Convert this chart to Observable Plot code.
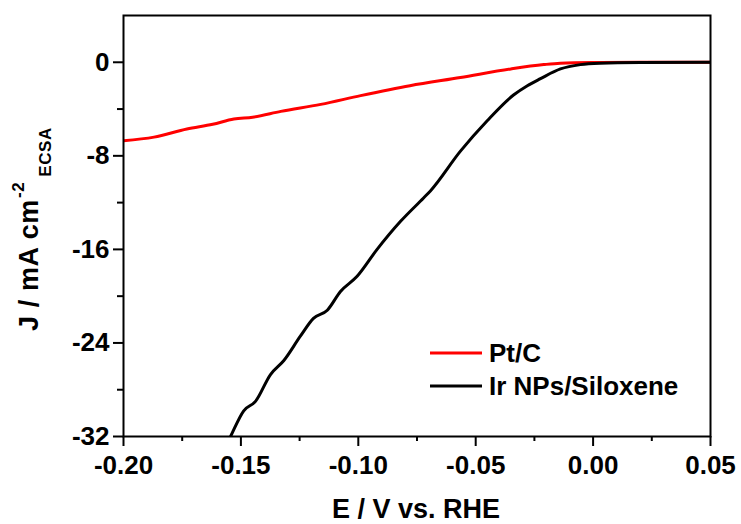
<!DOCTYPE html>
<html>
<head>
<meta charset="utf-8">
<script src="https://cdn.jsdelivr.net/npm/d3@7"></script>
<script src="https://cdn.jsdelivr.net/npm/@observablehq/plot@0.6"></script>
<style>
  html, body { margin: 0; padding: 0; background: #fff; }
</style>
</head>
<body>
<div id="chart"></div>
<script>
// Pt/C series
const ptE = [-0.200, -0.187, -0.173, -0.162, -0.153, -0.145, -0.133, -0.116, -0.099, -0.078, -0.0565, -0.035, -0.021, -0.014, 0.000, 0.020, 0.050];
const ptJ = [-6.7, -6.4, -5.7, -5.3, -4.85, -4.7, -4.2, -3.6, -2.85, -2.0, -1.3, -0.57, -0.2, -0.08, -0.02, 0, 0];
// Ir NPs/Siloxene series
const irE = [-0.158, -0.1544, -0.1488, -0.1438, -0.1374, -0.1317, -0.1246, -0.1191, -0.1132, -0.1076, -0.1005, -0.092, -0.082, -0.0722, -0.0693, -0.0565, -0.0451, -0.0339, -0.0280, -0.0224, -0.0139, -0.0054, 0.003, 0.020, 0.050];
const irJ = [-33.5, -32.0, -29.8, -29.0, -26.7, -25.5, -23.4, -21.9, -21.2, -19.6, -18.3, -16.0, -13.6, -11.6, -11.0, -7.6, -5.0, -2.8, -2.0, -1.4, -0.57, -0.2, -0.08, -0.02, 0];
const seriesNames = ["Pt/C", "Ir NPs/Siloxene"];
const seriesColors = ["#ff0000", "#000000"];
const xTicks = [-0.20, -0.15, -0.10, -0.05, 0.00, 0.05];
const xMinor = [-0.175, -0.125, -0.075, -0.025, 0.025];
const yTicks = [0, -8, -16, -24, -32];
const yMinor = [-4, -12, -20, -28];

const pt = ptE.map((e, i) => ({E: e, J: ptJ[i]}));
const ir = irE.map((e, i) => ({E: e, J: irJ[i]}));

const W = 741, H = 524;
const chart = Plot.plot({
  width: W,
  height: H,
  marginLeft: 123,
  marginRight: 31,
  marginTop: 15,
  marginBottom: 88,
  x: {domain: [-0.2, 0.05]},
  y: {domain: [-32, 4]},
  style: {fontFamily: "'Liberation Sans', Arial, sans-serif", fontWeight: "bold", fontSize: "26px", color: "#000", background: "#fff", overflow: "visible"},
  marks: [
    Plot.line(pt, {x: "E", y: "J", stroke: seriesColors[0], strokeWidth: 3, curve: "monotone-x", clip: true}),
    Plot.line(ir, {x: "E", y: "J", stroke: seriesColors[1], strokeWidth: 3, curve: "monotone-x", clip: true}),
    Plot.frame({stroke: "#000", strokeWidth: 2}),
    Plot.axisX({ticks: xTicks, tickSize: 10, tickPadding: 9, tickFormat: d => d.toFixed(2), label: null, strokeWidth: 2, fontSize: 26, fontWeight: "bold"}),
    Plot.axisX({ticks: xMinor, tickSize: 5, tickFormat: () => "", label: null, strokeWidth: 2}),
    Plot.axisY({ticks: yTicks, tickSize: 10, tickPadding: 4, tickFormat: d => String(d), label: null, strokeWidth: 2, fontSize: 26, fontWeight: "bold"}),
    Plot.axisY({ticks: yMinor, tickSize: 6, tickFormat: () => "", label: null, strokeWidth: 2})
  ]
});
document.getElementById("chart").appendChild(chart);

const svg = d3.select(chart);
const font = "'Liberation Sans', Arial, sans-serif";
// x title
svg.append("text")
  .attr("x", 416).attr("y", 518)
  .attr("text-anchor", "middle")
  .attr("font-family", font).attr("font-weight", "bold").attr("font-size", 27)
  .attr("fill", "#000")
  .text("E / V vs. RHE");
// y title
const yt = svg.append("text")
  .attr("transform", "translate(38,331) rotate(-90)")
  .attr("text-anchor", "start")
  .attr("font-family", font).attr("font-weight", "bold").attr("font-size", 27)
  .attr("letter-spacing", 0.6)
  .attr("fill", "#000");
yt.append("tspan").text("J / mA cm");
yt.append("tspan").attr("font-size", 17).attr("dy", -14).attr("dx", 1).text("-2");
yt.append("tspan").attr("font-size", 17).attr("dy", 27).attr("dx", 5).text("ECSA");

// legend
const lg = svg.append("g");
seriesNames.forEach((name, i) => {
  const y = 353 + i * 33;
  lg.append("line").attr("x1", 430).attr("x2", 482).attr("y1", y).attr("y2", y)
    .attr("stroke", seriesColors[i]).attr("stroke-width", 3);
  lg.append("text").attr("x", 489).attr("y", y + 9)
    .attr("text-anchor", "start")
    .attr("font-family", font).attr("font-weight", "bold").attr("font-size", 26)
    .attr("fill", "#000").text(name);
});
</script>
</body>
</html>
